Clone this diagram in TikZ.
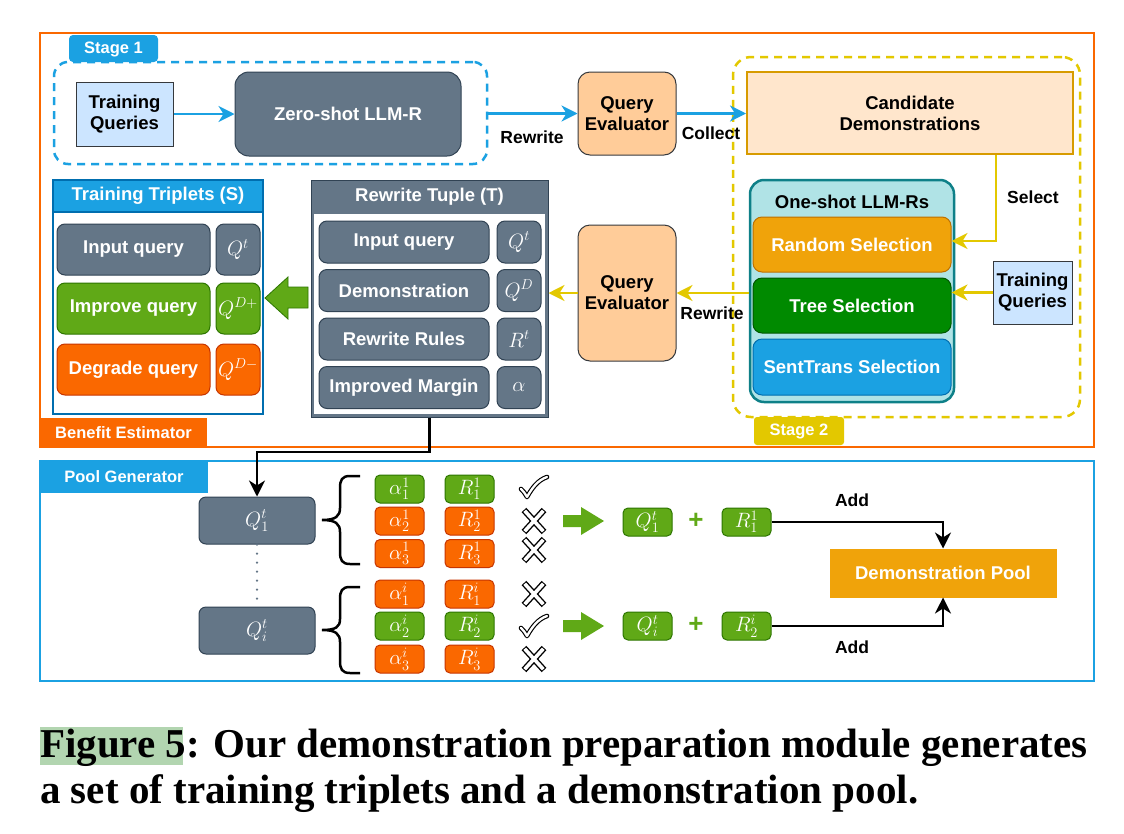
\documentclass[tikz,border=0pt]{standalone}
\usepackage{fontspec}
\setmainfont{Liberation Sans}
\newfontfamily\capfont{Liberation Serif}
\usetikzlibrary{arrows.meta,calc}
\definecolor{cgray}{HTML}{647687}
\definecolor{cgraydk}{HTML}{314354}
\definecolor{cgreen}{HTML}{60A917}
\definecolor{cgreendk}{HTML}{2D7600}
\definecolor{corange}{HTML}{FA6800}
\definecolor{corangedk}{HTML}{C73500}
\definecolor{cblue}{HTML}{1BA1E2}
\definecolor{cbluedk}{HTML}{006EAF}
\definecolor{camber}{HTML}{F0A30A}
\definecolor{camberdk}{HTML}{BD7000}
\definecolor{cdkgreen}{HTML}{008A00}
\definecolor{cdkgreendk}{HTML}{005700}
\definecolor{cteal}{HTML}{B0E3E6}
\definecolor{ctealdk}{HTML}{0E8088}
\definecolor{cltblue}{HTML}{CCE5FF}
\definecolor{cline}{HTML}{36393D}
\definecolor{cpeach}{HTML}{FFCC99}
\definecolor{cltorange}{HTML}{FFE6CC}
\definecolor{cltorangedk}{HTML}{D79B00}
\definecolor{cyellow}{HTML}{E3C800}
\definecolor{chl}{HTML}{B2D5B0}
\newcommand{\tsz}{\fontsize{18.5}{21}\selectfont\bfseries}
\newcommand{\lsz}{\fontsize{17.5}{20}\selectfont\bfseries}
\newcommand{\ssz}{\fontsize{16.5}{19}\selectfont\bfseries}
\newcommand{\msz}{\fontsize{20}{22}\selectfont}
\newcommand{\mkcheck}[1]{%
  \draw[black,line width=4.6pt,line cap=round,line join=round] ($(#1)+(-14,2)$) .. controls ($(#1)+(-11,5)$) .. ($(#1)+(-8,10)$) .. controls ($(#1)+(-3,1)$) and ($(#1)+(3,-7)$) .. ($(#1)+(12,-10)$);
  \draw[white,line width=2.3pt,line cap=round,line join=round] ($(#1)+(-14,2)$) .. controls ($(#1)+(-11,5)$) .. ($(#1)+(-8,10)$) .. controls ($(#1)+(-3,1)$) and ($(#1)+(3,-7)$) .. ($(#1)+(12,-10)$);}
\newcommand{\mkcross}[1]{%
  \draw[black,line width=6.4pt] ($(#1)+(-10,-11)$) -- ($(#1)+(10,11)$) ($(#1)+(10,-11)$) -- ($(#1)+(-10,11)$);
  \draw[white,line width=3.6pt] ($(#1)+(-9.3,-10.2)$) -- ($(#1)+(9.3,10.2)$) ($(#1)+(9.3,-10.2)$) -- ($(#1)+(-9.3,10.2)$);}
\tikzset{
  box/.style={inner sep=0pt, align=center, font=\tsz, line width=1pt},
  graybox/.style={box, fill=cgray, draw=cgraydk, text=white, rounded corners=8pt},
  greenbox/.style={box, fill=cgreen, draw=cgreendk, text=white, rounded corners=8pt},
  orangebox/.style={box, fill=corange, draw=corangedk, text=white, rounded corners=8pt},
  smallbox/.style={rounded corners=5pt, minimum width=49pt, minimum height=28pt, font=\msz},
  selbox/.style={box, text=white, rounded corners=9pt, minimum width=198pt},
  lbl/.style={inner sep=0pt, font=\lsz},
  tab/.style={inner sep=0pt, font=\ssz, text=white},
  arr/.style={line width=2.2pt, -{Stealth[length=16pt,width=16pt,inset=5pt]}},
  bigarrow/.style={fill=cgreen, draw=cgreendk, line width=0.8pt},
}
\begin{document}
\begin{tikzpicture}[x=1pt,y=-1pt]
\useasboundingbox[fill=white] (0,0) rectangle (1124,833);

% ===== Benefit estimator frame =====
\node[draw=corange, line width=2.5pt, minimum width=1054pt, minimum height=414pt, inner sep=0pt] (bframe) at (567,240) {};
\node[tab, fill=corange, minimum width=167pt, minimum height=29pt] (blabel) at (123.5,432.5) {Benefit Estimator};

% ===== Stage 1 =====
\fill[cblue, rounded corners=4pt] (69,62) -- (69,35) -- (158,35) -- (158,62) -- cycle;
\node[tab] (s1label) at (113.5,49) {Stage 1};
\node[draw=cblue, dashed, dash pattern=on 8pt off 6pt, line width=2.5pt, rounded corners=14pt, minimum width=433pt, minimum height=102pt, inner sep=0pt] (stage1) at (270.5,113) {};
\node[box, fill=cltblue, draw=cline, minimum width=97pt, minimum height=64pt] (tq1) at (124.5,114) {Training\\Queries};
\node[box, fill=cgray, draw=cgraydk, text=white, rounded corners=14pt, minimum width=226pt, minimum height=84pt] (zs) at (348,114) {Zero-shot LLM-R};
\draw[arr, cblue] (tq1) -- (zs);

\node[box, fill=cpeach, draw=cline, rounded corners=12pt, minimum width=98pt, minimum height=83pt] (qe1) at (627,113.5) {Query\\Evaluator};
\draw[arr, cblue] (stage1.east |- qe1.west) -- (qe1.west);
\node[lbl] (lrw1) at (532,137) {Rewrite};

% ===== Stage 2 =====
\node[draw=cyellow, dashed, dash pattern=on 8pt off 6pt, line width=2.5pt, rounded corners=18pt, minimum width=347pt, minimum height=360pt, inner sep=0pt] (stage2) at (906.5,237) {};
\node[tab, fill=cyellow, rounded corners=3pt, minimum width=90pt, minimum height=28pt] (s2label) at (799,431) {Stage 2};
\node[box, fill=cltorange, draw=cltorangedk, line width=2pt, minimum width=326pt, minimum height=82pt] (cand) at (910,113) {Candidate\\Demonstrations};
\draw[arr, cblue] (qe1.east) -- (cand.west |- qe1.east);
\node[lbl] (lcol) at (711,133) {Collect};

\node[box, fill=cteal, draw=ctealdk, line width=2.5pt, rounded corners=14pt, minimum width=204pt, minimum height=222pt] (oneshot) at (852,291) {};
\node[lbl, font=\tsz] (ostitle) at (852,202) {One-shot LLM-Rs};
\node[selbox, fill=camber, draw=camberdk, minimum height=55pt] (rand) at (852,244.5) {Random Selection};
\node[selbox, fill=cdkgreen, draw=cdkgreendk, minimum height=55pt] (tree) at (852,305.5) {Tree Selection};
\node[selbox, fill=cblue, draw=cbluedk, minimum height=56pt] (sent) at (852,367) {SentTrans Selection};
\node[box, fill=cltblue, draw=cline, minimum width=79pt, minimum height=63pt] (tq2) at (1032.5,292.5) {Training\\Queries};
\draw[arr, cyellow] (tq2.west) -- (tree.east |- tq2.west);
\coordinate (selc) at (996,241);
\draw[arr, cyellow] (cand.south -| selc) -- (selc) -- (rand.east |- selc);
\node[lbl] (lsel) at (1033,197) {Select};

\node[box, fill=cpeach, draw=cline, rounded corners=12pt, minimum width=98pt, minimum height=136pt] (qe2) at (627,293) {Query\\Evaluator};
\draw[arr, cyellow] (oneshot.west |- qe2.east) -- (qe2.east);
\node[lbl] (lrw2) at (712,313) {Rewrite};

% ===== Rewrite tuple =====
\node[fill=cgray, draw=cgraydk, line width=1pt, minimum width=237pt, minimum height=237pt, inner sep=0pt] (rt) at (429.5,298.5) {};
\node[fill=white, minimum width=231pt, minimum height=200pt, inner sep=0pt] (rtin) at (429.5,314) {};
\node[tab, font=\tsz] (rttitle) at (429.5,197) {Rewrite Tuple (T)};
\node[graybox, minimum width=170pt, minimum height=42pt] (rt1) at (404,242) {Input query};
\node[graybox, minimum width=44pt, minimum height=42pt, font=\msz] (rt1s) at (519,242) {$Q^t$};
\node[graybox, minimum width=170pt, minimum height=42pt] (rt2) at (404,290.5) {Demonstration};
\node[graybox, minimum width=44pt, minimum height=42pt, font=\msz] (rt2s) at (519,290.5) {$Q^D$};
\node[graybox, minimum width=170pt, minimum height=42pt] (rt3) at (404,339) {Rewrite Rules};
\node[graybox, minimum width=44pt, minimum height=42pt, font=\msz] (rt3s) at (519,339) {$R^t$};
\node[graybox, minimum width=170pt, minimum height=42pt] (rt4) at (404,387.5) {Improved Margin};
\node[graybox, minimum width=44pt, minimum height=42pt, font=\msz] (rt4s) at (519,387.5) {$\alpha$};
\draw[arr, cyellow] (qe2.west) -- (rt.east |- qe2.west);

% ===== Training triplets =====
\node[draw=cbluedk, fill=white, line width=2pt, minimum width=210pt, minimum height=234pt, inner sep=0pt] (tt) at (158,297) {};
\node[tab, font=\tsz, fill=cblue, draw=cbluedk, line width=2pt, minimum width=210pt, minimum height=32pt, anchor=north] (tttitle) at (tt.north) {Training Triplets (S)};
\node[graybox, minimum width=153pt, minimum height=51pt] (tt1) at (133.5,249.5) {Input query};
\node[graybox, minimum width=44pt, minimum height=51pt, font=\msz] (tt1s) at (238,249.5) {$Q^t$};
\node[greenbox, minimum width=153pt, minimum height=51pt] (tt2) at (133.5,308.5) {Improve query};
\node[greenbox, minimum width=44pt, minimum height=51pt, font=\msz] (tt2s) at (238,308.5) {$Q^{D+}$};
\node[orangebox, minimum width=153pt, minimum height=51pt] (tt3) at (133.5,369.5) {Degrade query};
\node[orangebox, minimum width=44pt, minimum height=51pt, font=\msz] (tt3s) at (238,369.5) {$Q^{D-}$};
\draw[bigarrow] (265,298) -- (288,277) -- (288,287) -- (308,287) -- (308,308) -- (288,308) -- (288,319) -- cycle;

% ===== Pool generator =====
\node[draw=cblue, line width=2.5pt, minimum width=1054pt, minimum height=220pt, inner sep=0pt] (pframe) at (567,571) {};
\node[tab, fill=cblue, minimum width=168pt, minimum height=32pt] (plabel) at (124,477) {Pool Generator};
\node[graybox, rounded corners=7pt, minimum width=116pt, minimum height=47pt, font=\fontsize{22}{24}\selectfont] (q1) at (257,520.5) {$Q_1^t$};
\node[graybox, rounded corners=7pt, minimum width=116pt, minimum height=47pt, font=\fontsize{22}{24}\selectfont] (qi) at (257,630.5) {$Q_i^t$};
\draw[cgray, line width=2.5pt, line cap=round, dash pattern=on 0pt off 9pt] (q1.south) -- (qi.north);
\coordinate (jn) at (429.5,452);
\draw[arr, black] (rt.south) -- (jn) -| (q1.north);

% braces
\draw[black, line width=2.5pt] (360,476) -- (350,476) .. controls (342,476) and (340,480) .. (340,488) -- (340,508) .. controls (340,516) and (336,520) .. (322,520) .. controls (336,520) and (340,524) .. (340,532) -- (340,552) .. controls (340,560) and (342,564) .. (350,564) -- (360,564);
\draw[black, line width=2.5pt] (360,587) -- (350,587) .. controls (342,587) and (340,591) .. (340,599) -- (340,619) .. controls (340,627) and (336,630) .. (322,630) .. controls (336,630) and (340,634) .. (340,642) -- (340,661) .. controls (340,669) and (342,673) .. (350,673) -- (360,673);

% alpha and R boxes
\node[greenbox, smallbox] (a11) at (399.5,489) {$\alpha_1^1$};
\node[orangebox, smallbox] (a21) at (399.5,521) {$\alpha_2^1$};
\node[orangebox, smallbox] (a31) at (399.5,553.5) {$\alpha_3^1$};
\node[greenbox, smallbox] (r11) at (469.5,489) {$R_1^1$};
\node[orangebox, smallbox] (r21) at (469.5,521) {$R_2^1$};
\node[orangebox, smallbox] (r31) at (469.5,553.5) {$R_3^1$};
\node[orangebox, smallbox] (a1i) at (399.5,594) {$\alpha_1^i$};
\node[greenbox, smallbox] (a2i) at (399.5,626) {$\alpha_2^i$};
\node[orangebox, smallbox] (a3i) at (399.5,659) {$\alpha_3^i$};
\node[orangebox, smallbox] (r1i) at (469.5,594) {$R_1^i$};
\node[greenbox, smallbox] (r2i) at (469.5,626) {$R_2^i$};
\node[orangebox, smallbox] (r3i) at (469.5,659) {$R_3^i$};

\coordinate (ck1) at (535,487);
\coordinate (cx1) at (534,521);
\coordinate (cx2) at (534,550);
\coordinate (cx3) at (534,594);
\coordinate (ck2) at (535,626);
\coordinate (cx4) at (534,659);
\mkcheck{ck1}
\mkcross{cx1}
\mkcross{cx2}
\mkcross{cx3}
\mkcheck{ck2}
\mkcross{cx4}

% green arrows
\fill[cgreen] (563,515) -- (581,515) -- (581,507) -- (604,521) -- (581,535) -- (581,527) -- (563,527) -- cycle;
\fill[cgreen] (563,620) -- (581,620) -- (581,612) -- (604,626) -- (581,640) -- (581,632) -- (563,632) -- cycle;

\node[greenbox, smallbox] (sq1) at (647.5,522) {$Q_1^t$};
\node[text=cgreen, font=\fontsize{26}{26}\selectfont\bfseries] (plus1) at (696,521) {+};
\node[greenbox, smallbox] (sr1) at (746.5,522) {$R_1^1$};
\node[greenbox, smallbox] (sq2) at (647.5,626) {$Q_i^t$};
\node[text=cgreen, font=\fontsize{26}{26}\selectfont\bfseries] (plus2) at (696,625) {+};
\node[greenbox, smallbox] (sr2) at (746.5,626) {$R_2^i$};

\node[box, fill=camber, draw=camber, text=white, minimum width=226pt, minimum height=48pt] (pool) at (943,573) {Demonstration Pool};
\draw[arr, black] (sr1.east) -| (pool.north);
\draw[arr, black] (sr2.east) -| (pool.south);
\node[lbl] (ladd1) at (852,500) {Add};
\node[lbl] (ladd2) at (852,647) {Add};

% ===== Caption =====
\fill[chl] (40,727) rectangle (183,765);
\node[anchor=base west, inner sep=0pt, font=\capfont\bfseries\fontsize{41}{46}\selectfont] (cap1) at (40,757) {Figure 5: Our demonstration preparation module generates};
\node[anchor=base west, inner sep=0pt, font=\capfont\bfseries\fontsize{41}{46}\selectfont] (cap2) at (40,803) {a set of training triplets and a demonstration pool.};
\end{tikzpicture}
\end{document}
